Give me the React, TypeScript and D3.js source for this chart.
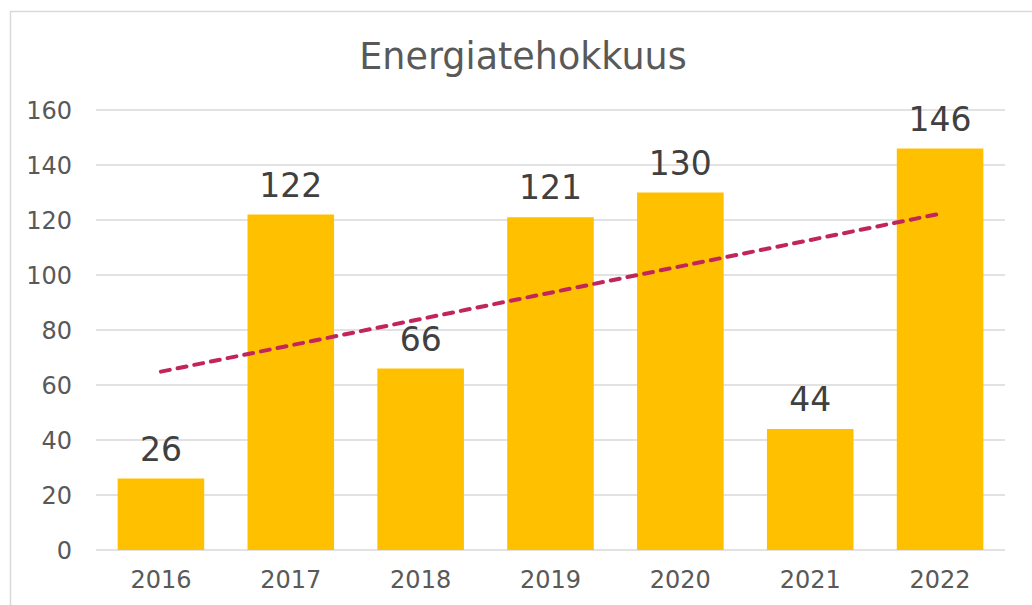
import React from "react";
import * as d3 from "d3";

const categories = ["2016", "2017", "2018", "2019", "2020", "2021", "2022"];
const values = [26, 122, 66, 121, 130, 44, 146];
const yTicks = [0, 20, 40, 60, 80, 100, 120, 140, 160];
const title = "Energiatehokkuus";

const W = 1032;
const H = 605;
const plot = { left: 96, right: 1005, top: 110, bottom: 550 };
const FONT = "'DejaVu Sans', Verdana, sans-serif";

export default function App() {
  const x = d3
    .scaleBand<string>()
    .domain(categories)
    .range([plot.left, plot.right])
    .paddingInner(1 / 3)
    .paddingOuter(1 / 6);
  const y = d3.scaleLinear().domain([0, 160]).range([plot.bottom, plot.top]);

  // linear trendline (least squares over category index)
  const xs = values.map((_, i) => i + 1);
  const mx = d3.mean(xs) as number;
  const my = d3.mean(values) as number;
  const sxy = d3.sum(xs.map((xi, i) => (xi - mx) * (values[i] - my)));
  const sxx = d3.sum(xs.map((xi) => (xi - mx) ** 2));
  const slope = sxy / sxx;
  const intercept = my - slope * mx;
  const trend = categories.map((c, i) => ({ c, v: intercept + slope * (i + 1) }));
  const line = d3
    .line<{ c: string; v: number }>()
    .x((d) => (x(d.c) as number) + x.bandwidth() / 2)
    .y((d) => y(d.v));

  return (
    <svg
      width={W}
      height={H}
      style={{ position: "absolute", left: 0, top: 0, background: "#fff" }}
      fontFamily={FONT}
    >
      <rect x={0} y={0} width={W} height={H} fill="#fff" />
      <rect x={10.5} y={11.5} width={1030} height={620} fill="#fff" stroke="#D9D9D9" strokeWidth={1.5} />
      <text x={523} y={69} textAnchor="middle" fontSize={36.5} fill="#595959">
        {title}
      </text>
      {yTicks.map((t) => (
        <g key={t}>
          <line x1={plot.left} x2={plot.right} y1={y(t)} y2={y(t)} stroke="#D9D9D9" strokeWidth={1.5} />
          <text x={72} y={y(t)} dy="0.36em" textAnchor="end" fontSize={24} fill="#595959">
            {t}
          </text>
        </g>
      ))}
      {categories.map((c, i) => (
        <g key={c}>
          <rect
            x={x(c)}
            y={y(values[i])}
            width={x.bandwidth()}
            height={y(0) - y(values[i])}
            fill="#FFC000"
          />
          <text
            x={(x(c) as number) + x.bandwidth() / 2}
            y={y(values[i]) - 18}
            textAnchor="middle"
            fontSize={33}
            fill="#404040"
          >
            {values[i]}
          </text>
          <text
            x={(x(c) as number) + x.bandwidth() / 2}
            y={588}
            textAnchor="middle"
            fontSize={24}
            fill="#595959"
          >
            {c}
          </text>
        </g>
      ))}
      <path
        d={line(trend) || ""}
        fill="none"
        stroke="#C2255C"
        strokeWidth={4}
        strokeLinecap="round"
        strokeDasharray="9 8"
      />
    </svg>
  );
}
